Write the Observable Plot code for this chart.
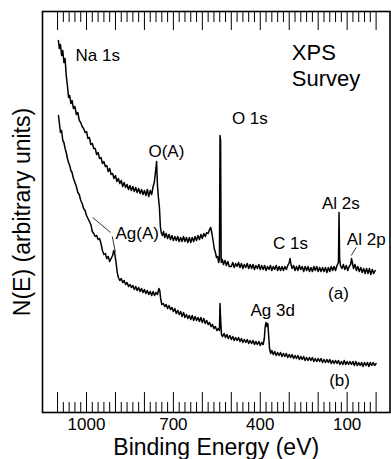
<!DOCTYPE html>
<html><head><meta charset="utf-8">
<script src="https://cdn.jsdelivr.net/npm/d3@7"></script>
<script src="https://cdn.jsdelivr.net/npm/@observablehq/plot@0.6"></script>
<style>html,body{margin:0;padding:0;background:#fff}</style>
</head><body><div id="chart"></div>
<script>
// Binding energy (eV), intensity (arbitrary units) — curve (a)
const spectrumA = [
[1097,372],[1094,364],[1090,368],[1086,357],[1082,362],[1078,350],[1074,354],[1070,337],[1066,327],[1062,315],
[1058,317],[1054,309],[1050,312],[1045,304],[1040,306],[1035,298],[1030,300],[1025,292],[1020,290],[1015,286],
[1010,284],[1005,280],[1000,281],[995,274],[990,275],[985,268],[980,269],[975,264],[970,264],[965,258],
[960,260],[955,254],[950,255],[945,249],[940,251],[935,246],[930,247],[925,241],[920,244],[915,238],
[910,239],[905,234],[900,237],[895,231],[890,234],[885,229],[880,232],[875,226],[870,230],[865,225],
[860,228],[855,223],[850,227],[845,222],[840,226],[835,221],[830,225],[825,220],[820,224],[815,219],
[810,223],[805,218],[800,222],[795,217],[790,223],[785,216],[780,222],[775,218],[770,226],[766,230],
[762,240],[758,251],[755,227],[752,216],[748,204],[745,186],[742,180],[738,177],[734,181],[730,175],
[725,179],[720,174],[715,178],[710,173],[705,177],[700,172],[695,176],[690,172],[685,176],[680,171],
[675,175],[670,171],[665,176],[660,171],[655,175],[650,170],[645,175],[640,170],[635,175],[630,171],
[625,176],[620,172],[615,177],[610,173],[605,178],[600,174],[595,179],[590,176],[585,180],[580,179],
[575,183],[571,185],[567,179],[563,172],[559,164],[555,160],[551,155],[547,156],[544,150],[541,154],
[539,277],[537,272],[535,150],[531,153],[527,148],[522,152],[517,147],[512,151],[507,146],
[500,146],[495,150],[490,145],[485,149],[480,146],[475,150],[470,145],[465,149],[460,144],[455,148],
[450,145],[445,149],[440,144],[435,148],[430,144],[425,148],[420,143],[415,147],[410,144],[405,148],
[400,143],[395,147],[390,143],[385,147],[380,142],[375,146],[370,143],[365,147],[360,142],[355,146],
[350,143],[345,147],[340,142],[335,146],[330,142],[325,146],[320,142],[315,146],[310,143],[305,147],
[300,150],[297,154],[294,148],[290,144],[285,147],[280,142],[275,146],[270,142],[265,147],[260,143],
[255,146],[250,141],[245,146],[240,142],[235,146],[230,141],[225,145],[220,141],[215,146],[210,142],
[205,146],[200,141],[195,145],[190,141],[185,145],[180,141],[175,145],[170,140],[165,145],[160,141],
[155,146],[150,142],[145,146],[140,142],[135,147],[130,150],[128,200],[126,154],[123,147],[118,144],
[113,148],[108,143],[103,147],[98,142],[93,146],[88,148],[85,154],[82,150],[78,144],[73,148],
[68,142],[63,146],[58,141],[53,145],[48,140],[43,144],[38,139],[33,144],[28,139],[23,144],
[18,138],[13,143],[8,139],[3,142]
];
// curve (b)
const spectrumB = [
[1097,297],[1094,290],[1090,280],[1086,282],[1082,272],[1078,270],[1074,264],[1070,260],[1066,254],[1062,250],
[1058,247],[1054,242],[1050,240],[1045,234],[1040,230],[1035,226],[1030,220],[1025,218],[1020,212],[1015,209],
[1010,204],[1005,202],[1000,197],[995,194],[990,191],[985,188],[980,181],[975,179],[970,176],[965,177],
[960,173],[955,174],[950,169],[945,162],[940,158],[935,159],[930,154],[925,156],[920,151],[915,154],
[910,157],[906,162],[902,158],[898,150],[894,140],[890,135],[885,132],[880,134],[875,130],[870,132],
[865,128],[860,130],[855,126],[850,128],[845,125],[840,127],[835,123],[830,126],[825,122],[820,125],
[815,121],[810,124],[805,120],[800,123],[795,119],[790,122],[785,118],[780,121],[775,117],[770,121],
[765,117],[760,120],[755,118],[750,124],[747,122],[744,114],[740,108],[735,109],[730,106],[725,108],
[720,104],[715,107],[710,103],[705,105],[700,101],[695,104],[690,99],[685,102],[680,98],[675,101],
[670,96],[665,100],[660,95],[655,98],[650,94],[645,97],[640,93],[635,97],[630,92],[625,96],
[620,92],[615,95],[610,91],[605,95],[600,90],[595,94],[590,89],[585,92],[580,88],[575,90],
[570,86],[565,88],[560,84],[555,86],[550,82],[545,84],[541,82],[539,109],[537,94],[534,78],
[530,76],[525,79],[520,75],[515,78],[510,74],[505,77],[500,73],[495,76],[490,72],[485,75],
[480,72],[475,75],[470,71],[465,74],[460,70],[455,73],[450,70],[445,73],[440,69],[435,72],
[430,69],[425,72],[420,68],[415,71],[410,68],[405,71],[400,67],[395,70],[390,68],[386,74],
[383,86],[380,90],[377,86],[374,89],[371,77],[368,64],[364,59],[360,62],[355,58],[350,61],
[345,57],[340,60],[335,57],[330,60],[325,56],[320,59],[315,56],[310,59],[305,55],[300,58],
[295,55],[290,58],[285,54],[280,57],[275,54],[270,57],[265,53],[260,56],[255,53],[250,56],
[245,52],[240,55],[235,52],[230,55],[225,52],[220,55],[215,51],[210,54],[205,51],[200,54],
[195,51],[190,54],[185,50],[180,53],[175,50],[170,53],[165,50],[160,53],[155,49],[150,52],
[145,49],[140,52],[135,49],[130,52],[125,48],[120,51],[115,48],[110,52],[105,48],[100,51],
[95,48],[90,51],[85,48],[80,51],[75,47],[70,51],[65,47],[60,50],[55,47],[50,50],
[45,46],[40,50],[35,47],[30,50],[25,46],[20,50],[15,47],[10,50],[5,47],[0,49]
];
const labelTicks = ["1000", "700", "400", "100"];
const majorTicks = [0,100,200,300,400,500,600,700,800,900,1000,1100];
const minorTicks = [20,40,60,80,120,140,160,180,220,240,260,280,320,340,360,380,420,440,460,480,
  520,540,560,580,620,640,660,680,720,740,760,780,820,840,860,880,920,940,960,980,1020,1040,1060,1080];
// annotations: text, energy, intensity
const peakLabels = ["Na 1s","O(A)","O 1s","Al 2s","C 1s","Al 2p","(a)","Ag 3d","(b)","Ag(A)"];
const peakLabelE = [1038, 786, 498, 187, 356, 101, 166, 434, 162, 900];
const peakLabelI = [352, 256, 289, 204, 164, 168, 114, 97, 27, 174];
const titleLines = ["XPS", "Survey"];
const titleE = 291;
const titleI = 327;
// leader lines: [E1, I1, E2, I2]
const leaders = [[917,180,979,195],[911,176,900,160],[69,165,86,157]];

const font = "'Liberation Sans', Arial, Helvetica, sans-serif";
const labels = peakLabels.map((t,i)=>({t, e: peakLabelE[i], v: peakLabelI[i]}));
const titles = [{t: titleLines.join("\n"), e: titleE, v: titleI}];

const plot = Plot.plot({
  width: 391, height: 459,
  marginLeft: 42, marginRight: 1.5, marginTop: 11, marginBottom: 47,
  style: {fontFamily: font, background: "#fff", color: "#000"},
  x: {domain: [1152, -48], axis: null},
  y: {domain: [0, 401], axis: null},
  marks: [
    Plot.ruleX(majorTicks, {x: d=>d, y1: 0, y2: 20, stroke: "#000", strokeWidth: 1}),
    Plot.ruleX(minorTicks, {x: d=>d, y1: 0, y2: 10, stroke: "#000", strokeWidth: 1}),
    Plot.ruleX(majorTicks, {x: d=>d, y1: 382, y2: 401, stroke: "#000", strokeWidth: 1}),
    Plot.ruleX(minorTicks, {x: d=>d, y1: 390, y2: 401, stroke: "#000", strokeWidth: 1}),
    Plot.line(spectrumA, {x: d=>d[0], y: d=>d[1], stroke: "#000", strokeWidth: 1.5}),
    Plot.line(spectrumB, {x: d=>d[0], y: d=>d[1], stroke: "#000", strokeWidth: 1.5}),
    Plot.link(leaders, {x1: d=>d[0], y1: d=>d[1], x2: d=>d[2], y2: d=>d[3], stroke: "#000", strokeWidth: 0.8}),
    Plot.text(labels, {x: "e", y: "v", text: "t", textAnchor: "start", lineAnchor: "bottom", fontSize: 17, fill: "#000"}),
    Plot.text(titles, {x: "e", y: "v", text: "t", textAnchor: "start", lineAnchor: "bottom", lineHeight: 1.15, fontSize: 22, fill: "#000"}),
    Plot.text(labelTicks, {x: d=>+d, text: d=>d, frameAnchor: "bottom", textAnchor: "middle", dy: 17, lineAnchor: "bottom", fontSize: 17, fill: "#000"}),
    Plot.text(["Binding Energy (eV)"], {frameAnchor: "bottom", textAnchor: "middle", dx: 0, dy: 42, lineAnchor: "bottom", fontSize: 23, fill: "#000"}),
    Plot.text(["N(E) (arbitrary units)"], {frameAnchor: "left", textAnchor: "middle", dx: -13, rotate: -90, lineAnchor: "bottom", fontSize: 23, fill: "#000"}),
    Plot.frame({stroke: "#000", strokeWidth: 1.6})
  ]
});
document.getElementById("chart").appendChild(plot);
</script>
</body></html>
